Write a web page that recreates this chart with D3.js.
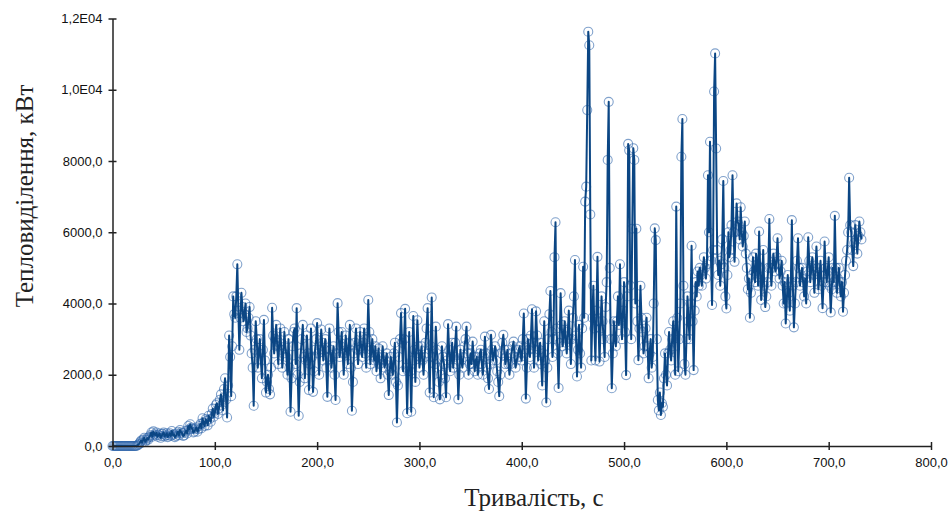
<!DOCTYPE html>
<html>
<head>
<meta charset="utf-8">
<script src="https://cdn.jsdelivr.net/npm/d3@7"></script>
<style>
  html, body { margin: 0; padding: 0; background: #fff; }
  svg { display: block; }
</style>
</head>
<body>
<svg id="chart" width="951" height="513"></svg>
<script>
// ---- Data (heat release, kW, one reading per second from t = 0 s) ----
const timeStep = 1;
const heatRelease = [
  0,0,0,0,0,0,0,0,0,0,0,0,0,0,0,0,0,0,0,0,
  0,0,0,0,10,30,60,110,150,90,180,230,120,160,220,180,250,300,380,260,
  410,330,300,380,260,310,350,230,280,340,380,270,300,360,250,300,360,280,420,310,
  330,250,280,350,400,300,450,380,360,280,300,380,430,350,560,470,610,520,480,380,
  400,470,520,400,470,560,620,500,780,650,560,750,700,580,850,760,680,900,1050,820,
  920,1150,1200,900,1050,1300,1450,1150,1000,1600,1900,1300,800,1700,3100,2500,1400,2800,4200,3700,
  3600,4200,5100,3800,2700,3600,4300,3900,3500,3700,4000,3200,3300,3600,3900,3100,2600,2200,1130,2700,
  3500,3000,2200,2600,3000,2400,1900,2700,3540,2400,1500,1800,2000,1600,1450,2200,3880,3100,2600,3000,
  3400,2800,2300,2900,3300,2700,2200,2600,3200,2800,2500,2000,3000,2200,960,1900,2800,3200,3300,2300,
  3870,2000,850,1800,2600,3000,3400,2500,1900,2400,3100,2600,1570,2300,3300,2500,1520,2100,2700,3000,
  3450,2600,2000,2700,3270,2900,2400,2700,3000,2200,1380,2500,3300,2700,2200,2500,2800,2000,1290,2600,
  4010,3200,2500,2800,3200,2600,2000,2600,3100,2700,2300,2900,3400,2200,990,1800,2600,2900,3300,2700,
  2300,2700,3200,2800,2500,2900,3300,2600,2200,3000,4100,3200,2300,2700,3000,2500,2400,2800,2100,2400,
  2740,2300,1900,2400,2800,2500,2200,2400,2600,2000,1430,2100,2500,2200,2000,2600,2900,1800,660,1700,
  2500,3000,3730,2900,2100,3000,3850,2200,920,2100,3200,2100,960,2400,3650,2700,1800,2600,3530,2800,
  2200,2500,2800,2400,2000,2500,2900,3300,3870,2600,1500,2800,4170,2500,1370,2300,3350,2700,2200,1800,
  1310,2000,2800,2500,2300,1900,1370,2400,3420,2700,2100,2500,2900,2200,2500,2900,3350,2300,1310,2000,
  2700,2400,2200,2500,2800,3000,3350,2600,2000,2300,2600,2300,2930,2500,2100,2400,2500,2000,2300,2600,
  2700,2300,2000,2500,3070,2600,2200,1900,1600,2300,3120,2700,2400,2600,2800,2400,2100,1800,1400,2000,
  2600,2900,3120,2700,2300,2500,2700,2300,2000,2300,2600,2800,2930,2500,2200,2400,2500,2700,2800,2500,
  2400,3000,3720,2600,1330,2200,3000,2700,2500,3100,3840,2900,2200,2800,3780,3100,2400,2700,2900,2300,
  1700,2600,3500,2400,1220,2200,3000,3700,4350,3200,2500,3000,5300,6280,3300,2600,1630,2900,4290,3400,
  2800,3100,3500,2900,2600,3200,3800,3000,2300,3000,3600,4200,5220,3100,1950,2700,3400,2600,2200,3300,
  5030,3600,6860,7280,9430,11630,11250,6500,2400,3600,4500,3300,2400,3800,5310,3500,2370,3300,4200,3500,
  3000,2500,3900,4600,8030,9660,5000,3000,1620,2600,3500,3000,2800,3500,4200,3400,5100,3600,3000,3800,
  4600,3200,1990,4200,8480,8300,4500,3000,6100,8360,8030,4000,6100,3500,2410,3300,4500,3600,3200,2600,
  2800,3300,3600,2800,1900,2600,3000,2200,2500,4000,6110,5780,3000,1290,1000,1500,870,1200,1100,1900,
  2600,2000,1700,2600,3200,2700,2400,3000,3500,2800,2000,6720,3600,2100,3000,4000,8120,9180,4500,2300,
  2000,3000,4200,3500,3000,4000,5620,3500,2130,3800,4600,4200,4900,4500,5000,4800,4500,4900,5300,5000,
  4700,5100,7600,6000,8540,5200,3960,5500,9950,11020,8350,5500,4800,5200,4500,5100,5800,7440,5000,4200,
  3860,4800,6000,5300,5500,6200,7600,6000,5170,6000,6810,6300,6200,5800,6700,6000,5600,5900,6300,5400,
  5000,4400,4700,3600,4300,4800,5300,4900,4600,5400,5100,4500,6020,5000,4100,4600,5500,4500,3900,4200,
  4600,5000,6370,5000,4500,5000,5400,5100,4900,5300,5830,5100,4700,4900,5200,4500,4000,4600,3440,4000,
  4800,4300,3800,4600,6340,4500,3330,4000,4600,5200,5830,5000,4500,4800,5000,4600,4200,4700,4000,4900,
  5860,5200,4600,5000,5300,4800,4300,4900,5600,5000,4400,4800,5200,4500,3870,4600,5740,5000,4600,4900,
  5300,4500,3750,4400,5000,4600,6460,5000,4300,4700,5000,4500,4200,4600,3770,4300,4800,5200,5500,6000,
  7530,6200,6000,5500,5050,5700,6200,5800,5400,5900,6300,6000,5800
];
const xTicks = [0, 100, 200, 300, 400, 500, 600, 700, 800];
const xTickLabels = ["0,0","100,0","200,0","300,0","400,0","500,0","600,0","700,0","800,0"];
const yTicks = [0, 2000, 4000, 6000, 8000, 10000, 12000];
const yTickLabels = ["0,0","2000,0","4000,0","6000,0","8000,0","1,0E04","1,2E04"];
const xTitle = "Тривалість, с";
const yTitle = "Тепловиділення, кВт";

// ---- Layout ----
const svg = d3.select("#chart");
const plotLeft = 112.5, plotRight = 931, plotTop = 18.5, plotBottom = 446;
const x = d3.scaleLinear().domain([0, 800]).range([plotLeft, plotRight]);
const y = d3.scaleLinear().domain([0, 12000]).range([plotBottom, plotTop]);

const data = heatRelease.map((v, i) => ({ t: i * timeStep, v }));

const lineColor = "#0b4684";

// Markers (under the line, pale rings)
svg.append("g")
  .selectAll("circle")
  .data(data)
  .join("circle")
  .attr("cx", d => x(d.t))
  .attr("cy", d => y(d.v))
  .attr("r", 4.5)
  .attr("fill", "none")
  .attr("stroke", "rgba(45,100,170,0.6)")
  .attr("stroke-width", 1.1);

// Line
svg.append("path")
  .datum(data)
  .attr("fill", "none")
  .attr("stroke", lineColor)
  .attr("stroke-width", 2)
  .attr("stroke-linejoin", "round")
  .attr("d", d3.line().x(d => x(d.t)).y(d => y(d.v)));

// Axes
const xAxis = d3.axisBottom(x).tickValues(xTicks)
  .tickFormat((d, i) => xTickLabels[i]).tickSize(4).tickSizeOuter(0).tickPadding(8);
const gx = svg.append("g").attr("transform", `translate(0,${plotBottom})`).call(xAxis);
gx.selectAll(".tick line").attr("y1", -4).attr("y2", 4);

const yAxis = d3.axisLeft(y).tickValues(yTicks)
  .tickFormat((d, i) => yTickLabels[i]).tickSize(4).tickSizeOuter(0).tickPadding(6);
const gy = svg.append("g").attr("transform", `translate(${plotLeft},0)`).call(yAxis);
gy.selectAll(".tick line").attr("x1", -4).attr("x2", 4);

[gx, gy].forEach(g => {
  g.select(".domain").attr("stroke", "#222").attr("stroke-width", 1.5);
  g.selectAll(".tick line").attr("stroke", "#222").attr("stroke-width", 1.5);
  g.selectAll(".tick text")
    .attr("fill", "#111")
    .style("font-family", "'Liberation Sans', Arial, sans-serif")
    .style("font-size", "13px");
});

// Titles
svg.append("text")
  .attr("x", 534).attr("y", 506)
  .attr("text-anchor", "middle")
  .style("font-family", "'Liberation Serif', 'Times New Roman', serif")
  .style("font-size", "25px")
  .attr("fill", "#222")
  .text(xTitle);

svg.append("text")
  .attr("transform", "translate(33,196) rotate(-90)")
  .attr("text-anchor", "middle")
  .style("font-family", "'Liberation Serif', 'Times New Roman', serif")
  .style("font-size", "25px")
  .attr("fill", "#222")
  .text(yTitle);
</script>
</body>
</html>
